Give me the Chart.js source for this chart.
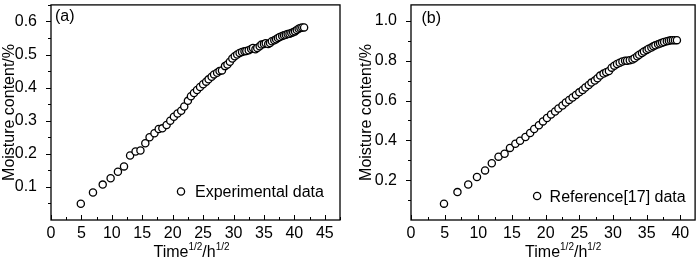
<!DOCTYPE html>
<html><head><meta charset="utf-8">
<script src="https://cdn.jsdelivr.net/npm/chart.js@4/dist/chart.umd.min.js"></script>
<style>
html,body{margin:0;padding:0;background:#fff;}
#wrap{position:relative;width:700px;height:258px;overflow:hidden;}
.p{position:absolute;top:0;width:350px;height:258px;}
</style>
</head><body>
<div id="wrap">
<div class="p" style="left:0"><canvas id="ca" width="350" height="258"></canvas></div>
<div class="p" style="left:350px"><canvas id="cb" width="350" height="258"></canvas></div>
</div>
<script>
// ---- data ----
const timeA = [4.9, 6.9, 8.5, 9.8, 11.0, 12.0, 13.0, 13.9, 14.7, 15.5,
  16.2, 17.0, 17.7, 18.3, 19.0, 19.6, 20.2, 20.8, 21.4, 21.9,
  22.5, 23.0, 23.5, 24.0, 24.5, 25.0, 25.5, 25.9, 26.4, 26.8,
  27.3, 27.7, 28.1, 28.6, 29.0, 29.4, 29.8, 30.2, 30.6, 31.0,
  31.4, 31.8, 32.1, 32.5, 32.9, 33.2, 33.6, 33.9, 34.3, 34.6,
  35.0, 35.3, 35.7, 36.0, 36.3, 36.7, 37.0, 37.3, 37.6, 38.0,
  38.3, 38.6, 38.9, 39.2, 39.5, 39.8, 40.1, 40.4, 40.7, 41.0,
  41.3, 41.6];
const moistA = [0.049, 0.083, 0.107, 0.126, 0.146, 0.162, 0.195, 0.207, 0.210, 0.232,
  0.250, 0.262, 0.275, 0.277, 0.287, 0.300, 0.312, 0.322, 0.330, 0.343,
  0.360, 0.374, 0.384, 0.393, 0.402, 0.410, 0.418, 0.425, 0.433, 0.440,
  0.445, 0.450, 0.452, 0.465, 0.470, 0.478, 0.488, 0.495, 0.500, 0.505,
  0.508, 0.510, 0.511, 0.513, 0.517, 0.520, 0.516, 0.520, 0.525, 0.530,
  0.532, 0.534, 0.532, 0.535, 0.540, 0.543, 0.546, 0.550, 0.553, 0.556,
  0.558, 0.560, 0.562, 0.563, 0.565, 0.567, 0.570, 0.574, 0.578, 0.580,
  0.582, 0.582];
const timeB = [4.9, 6.9, 8.5, 9.8, 11.0, 12.0, 13.0, 13.9, 14.7, 15.5,
  16.2, 17.0, 17.7, 18.3, 19.0, 19.6, 20.2, 20.8, 21.4, 21.9,
  22.5, 23.0, 23.5, 24.0, 24.5, 25.0, 25.5, 25.9, 26.4, 26.8,
  27.3, 27.7, 28.1, 28.6, 29.0, 29.4, 29.8, 30.2, 30.6, 31.0,
  31.4, 31.8, 32.1, 32.5, 32.9, 33.2, 33.6, 33.9, 34.3, 34.6,
  35.0, 35.3, 35.7, 36.0, 36.3, 36.7, 37.0, 37.3, 37.6, 38.0,
  38.3, 38.6, 38.9, 39.2, 39.5];
const moistB = [0.082, 0.140, 0.178, 0.216, 0.249, 0.285, 0.318, 0.333, 0.362, 0.383,
  0.398, 0.417, 0.437, 0.457, 0.476, 0.495, 0.512, 0.530, 0.545, 0.560,
  0.575, 0.590, 0.603, 0.615, 0.628, 0.641, 0.653, 0.665, 0.678, 0.690,
  0.700, 0.712, 0.725, 0.735, 0.742, 0.748, 0.765, 0.775, 0.783, 0.790,
  0.796, 0.800, 0.800, 0.802, 0.806, 0.812, 0.822, 0.830, 0.838, 0.846,
  0.853, 0.860, 0.866, 0.872, 0.877, 0.882, 0.886, 0.890, 0.894, 0.898,
  0.900, 0.902, 0.903, 0.903, 0.903];
const xTicksA = [0, 5, 10, 15, 20, 25, 30, 35, 40, 45];
const yTicksA = [0.1, 0.2, 0.3, 0.4, 0.5, 0.6];
const xTicksB = [0, 5, 10, 15, 20, 25, 30, 35, 40];
const yTicksB = [0.2, 0.4, 0.6, 0.8, 1.0];
const seriesLabelA = 'Experimental data';
const seriesLabelB = 'Reference[17] data';
const panelLabelA = '(a)';
const panelLabelB = '(b)';
const yTitle = 'Moisture content/%';
const xTitleParts = [['Time', false], ['1/2', true], ['/h', false], ['1/2', true]];

// ---- drawing ----
const FONT = '"Liberation Sans", Arial, sans-serif';
Chart.defaults.font.family = FONT;
Chart.defaults.color = '#000';

const framePlugin = {
  id: 'frame',
  afterDraw(chart, args, o) {
    const {ctx, chartArea: a, scales} = chart;
    const x = scales.x, y = scales.y;
    ctx.save();
    ctx.strokeStyle = '#000';
    ctx.lineWidth = 1;
    ctx.beginPath();
    for (let i = 0; ; i++) {
      const v = i * o.xMinor;
      if (v > x.max + 1e-9) break;
      const px = Math.round(x.getPixelForValue(v)) + 0.5;
      const major = i % 2 === 0;
      ctx.moveTo(px, a.bottom);
      ctx.lineTo(px, a.bottom - (major ? 5 : 3));
    }
    for (let i = 1; ; i++) {
      const v = i * o.yMinor;
      if (v > y.max + 1e-9) break;
      const py = Math.round(y.getPixelForValue(v)) + 0.5;
      const major = i % 2 === 0;
      ctx.moveTo(a.left, py);
      ctx.lineTo(a.left - (major ? 5 : 3), py);
    }
    ctx.stroke();
    ctx.lineWidth = 1.3;
    ctx.strokeRect(a.left, a.top, a.right - a.left, a.bottom - a.top);

    ctx.fillStyle = '#000';
    ctx.textAlign = 'left';
    ctx.textBaseline = 'alphabetic';
    ctx.font = '16px ' + FONT;
    ctx.fillText(o.panel, a.left + o.panelDx, a.top + o.panelDy);

    // legend
    const cx = a.right - o.legRight, cy = a.bottom - o.legUp;
    ctx.beginPath();
    ctx.arc(cx, cy, 3.6, 0, Math.PI * 2);
    ctx.fillStyle = '#fff';
    ctx.fill();
    ctx.lineWidth = 1.3;
    ctx.stroke();
    ctx.fillStyle = '#000';
    ctx.fillText(chart.data.datasets[0].label, cx + o.legGap, cy + 5.7);

    // x title with superscripts
    let w = 0;
    for (const [t, sup] of xTitleParts) {
      ctx.font = (sup ? '10px ' : '16px ') + FONT;
      w += ctx.measureText(t).width;
    }
    let tx = x.getPixelForValue(o.titleAt) - w / 2;
    for (const [t, sup] of xTitleParts) {
      ctx.font = (sup ? '10px ' : '16px ') + FONT;
      ctx.fillText(t, tx, sup ? 250 : 256.5);
      tx += ctx.measureText(t).width;
    }
    ctx.restore();
  }
};

function zeroPad(s) { s.paddingTop = 0; s.paddingBottom = 0; s.paddingLeft = 0; s.paddingRight = 0; }

function makeChart(id, xs, ys, label, xTicks, yTicks, cfg) {
  return new Chart(document.getElementById(id), {
    type: 'scatter',
    data: {
      datasets: [{
        label: label,
        data: xs.map((v, i) => ({x: v, y: ys[i]})),
        pointRadius: 3.6,
        pointHoverRadius: 3.6,
        borderWidth: 1.3,
        borderColor: '#000',
        backgroundColor: '#fff',
        showLine: false
      }]
    },
    options: {
      responsive: false,
      animation: false,
      events: [],
      layout: {padding: cfg.padding},
      plugins: {legend: {display: false}, tooltip: {enabled: false}, frame: cfg.frame},
      scales: {
        x: {
          type: 'linear', min: 0, max: cfg.xMax,
          grid: {display: false},
          border: {display: false},
          ticks: {font: {size: 16}, padding: -4, maxRotation: 0, autoSkip: false,
                  callback: v => String(v)},
          afterBuildTicks: s => { s.ticks = xTicks.map(v => ({value: v})); },
          afterFit: s => { s.height = 38; zeroPad(s); }
        },
        y: {
          type: 'linear', min: 0, max: cfg.yMax,
          grid: {display: false},
          border: {display: false},
          ticks: {font: {size: 16}, padding: 6, autoSkip: false,
                  callback: v => v.toFixed(1)},
          afterBuildTicks: s => { s.ticks = yTicks.map(v => ({value: v})); },
          afterFit: s => { s.width = cfg.yWidth; zeroPad(s); },
          title: {display: true, text: yTitle, font: {size: 16}, padding: {top: cfg.titlePad, bottom: 0}}
        }
      }
    },
    plugins: [framePlugin]
  });
}

makeChart('ca', timeA, moistA, seriesLabelA, xTicksA, yTicksA, {
  xMax: 47.5, yMax: 0.65, yWidth: 51, titlePad: 0,
  padding: {top: 3, right: 10, left: 0, bottom: 0},
  frame: {xMinor: 2.5, yMinor: 0.05, panel: panelLabelA, panelDx: 4, panelDy: 16,
          legRight: 159, legUp: 28.5, legGap: 14, titleAt: 23.1}
});
makeChart('cb', timeB, moistB, seriesLabelB, xTicksB, yTicksB, {
  xMax: 42.2, yMax: 1.08, yWidth: 61, titlePad: 7,
  padding: {top: 1, right: 3, left: 0, bottom: 0},
  frame: {xMinor: 2.5, yMinor: 0.1, panel: panelLabelB, panelDx: 10.5, panelDy: 18,
          legRight: 158, legUp: 24, legGap: 12.5, titleAt: 22.6}
});
</script>
</body></html>
